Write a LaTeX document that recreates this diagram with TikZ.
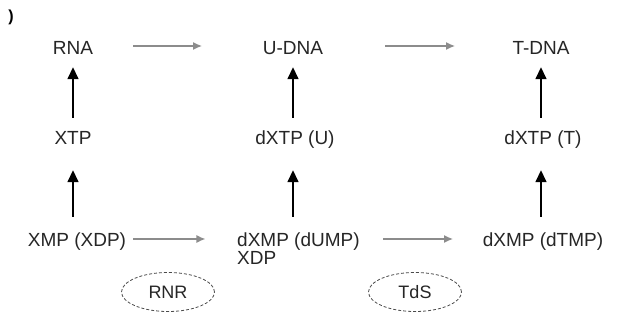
\documentclass[tikz,border=0pt]{standalone}
\usepackage{fontspec}
\setmainfont{Liberation Sans}
\usetikzlibrary{arrows.meta,shapes.geometric}
\definecolor{txt}{HTML}{262626}
\definecolor{gry}{HTML}{8C8C8C}
\definecolor{ovl}{HTML}{4A4A4A}
\begin{document}
\begin{tikzpicture}[x=1pt,y=-1pt,
  lbl/.style={inner sep=0pt, text height=13.5pt, text depth=0pt, text=txt,
              font=\fontsize{19pt}{19pt}\selectfont},
  up/.style={draw=black, line width=1.5pt, -{Triangle[length=12pt,width=11pt]}},
  uptop/.style={up, shorten <=13.25pt, shorten >=12.25pt},
  upbot/.style={up, shorten <=16.25pt, shorten >=25.25pt},
  garrow/.style={draw=gry, line width=1.3pt, -{Latex[length=9pt,width=8pt]}},
  enz/.style={ellipse, draw=ovl, dashed, dash pattern=on 3pt off 2pt, line width=0.8pt,
              minimum width=93pt, minimum height=39pt, inner sep=0pt, text=txt,
              font=\fontsize{18pt}{18pt}\selectfont}]
\fill[white] (0,0) rectangle (633,331);
\useasboundingbox (0,0) rectangle (633,331);

\node[inner sep=0pt, text=black, font=\fontsize{16pt}{16pt}\bfseries] (mark) at (11,17) {)};

% top row
\node[lbl] (rna)  at (73,48)  {RNA};
\node[lbl] (udna) at (293,48) {U-DNA};
\node[lbl] (tdna) at (541,48) {T-DNA};
% middle row
\node[lbl] (xtp)   at (73,138)  {XTP};
\node[lbl] (dxtpu) at (295,138) {dXTP (U)};
\node[lbl] (dxtpt) at (543,138) {dXTP (T)};
% bottom row
\node[lbl] (xmp)  at (77,240) {XMP (XDP)};
\node[lbl, anchor=west] (dump) at (237,240) {dXMP (dUMP)};
\node[lbl, anchor=west] (xdp)  at (237,258) {XDP};
\node[lbl] (dtmp) at (543,240) {dXMP (dTMP)};

% enzymes
\node[enz] (rnr) at (168,292) {RNR};
\node[enz] (tds) at (415,292) {TdS};

% vertical arrows
\draw[uptop] (xtp.north) -- (rna.south);
\draw[upbot] (xtp |- xmp.north) -- (xtp.south);
\draw[uptop] (udna |- dxtpu.north) -- (udna.south);
\draw[upbot] (udna |- dump.north) -- (udna |- dxtpu.south);
\draw[uptop] (tdna |- dxtpt.north) -- (tdna.south);
\draw[upbot] (tdna |- dtmp.north) -- (tdna |- dxtpt.south);

% horizontal arrows
\draw[garrow] ([xshift=60pt,yshift=2pt]rna.center) -- ([xshift=-91pt,yshift=2pt]udna.center);
\draw[garrow] ([xshift=92pt,yshift=2pt]udna.center) -- ([xshift=-86pt,yshift=2pt]tdna.center);
\draw[garrow] ([xshift=56pt,yshift=1pt]xmp.center) -- ([xshift=-93pt,yshift=1pt]dump.center);
\draw[garrow] ([xshift=85pt,yshift=1pt]dump.center) -- ([xshift=-90pt,yshift=1pt]dtmp.center);
\end{tikzpicture}
\end{document}
